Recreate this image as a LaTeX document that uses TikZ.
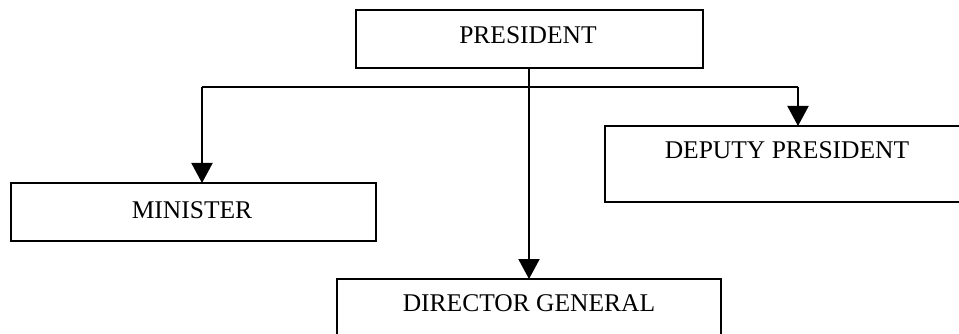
\documentclass[tikz,border=0pt]{standalone}
\usepackage{fontspec}
\setmainfont{Liberation Serif}
\usetikzlibrary{arrows.meta}
\begin{document}
\begin{tikzpicture}[x=1pt,y=-1pt,
  box/.style={draw=black, line width=2pt, rectangle, inner sep=0pt, outer sep=0pt, fill=white},
  lbl/.style={inner sep=0pt, font=\fontsize{25.5}{30}\selectfont},
  conn/.style={draw=black, line width=2pt},
  arr/.style={conn, -{Triangle[width=21pt,length=20pt]}}]
\clip (0,0) rectangle (959,334);
\fill[white] (0,0) rectangle (959,334);
% boxes
\node[box, minimum width=347pt, minimum height=58pt] (pres) at (529,39) {};
\node[box, minimum width=365pt, minimum height=58pt] (min) at (193.5,212) {};
\node[box, minimum width=380pt, minimum height=76pt] (dep) at (795,164) {};
\node[box, minimum width=384pt, minimum height=80pt] (dir) at (529,319) {};
% labels
\node[lbl] (prest) at (528,35) {PRESIDENT};
\node[lbl] (mint) at (192,210) {MINISTER};
\node[lbl] (dept) at (787,150) {DEPUTY PRESIDENT};
\node[lbl] (dirt) at (529,303) {DIRECTOR GENERAL};
% connectors
\coordinate (jl) at (202,87);
\coordinate (jr) at (798,87);
\draw[conn] (jl) -- (jr);
\draw[arr] (pres.south) -- (dir.north);
\draw[arr] (jl) -- (jl |- min.north);
\draw[arr] (jr) -- (jr |- dep.north);
\end{tikzpicture}
\end{document}
